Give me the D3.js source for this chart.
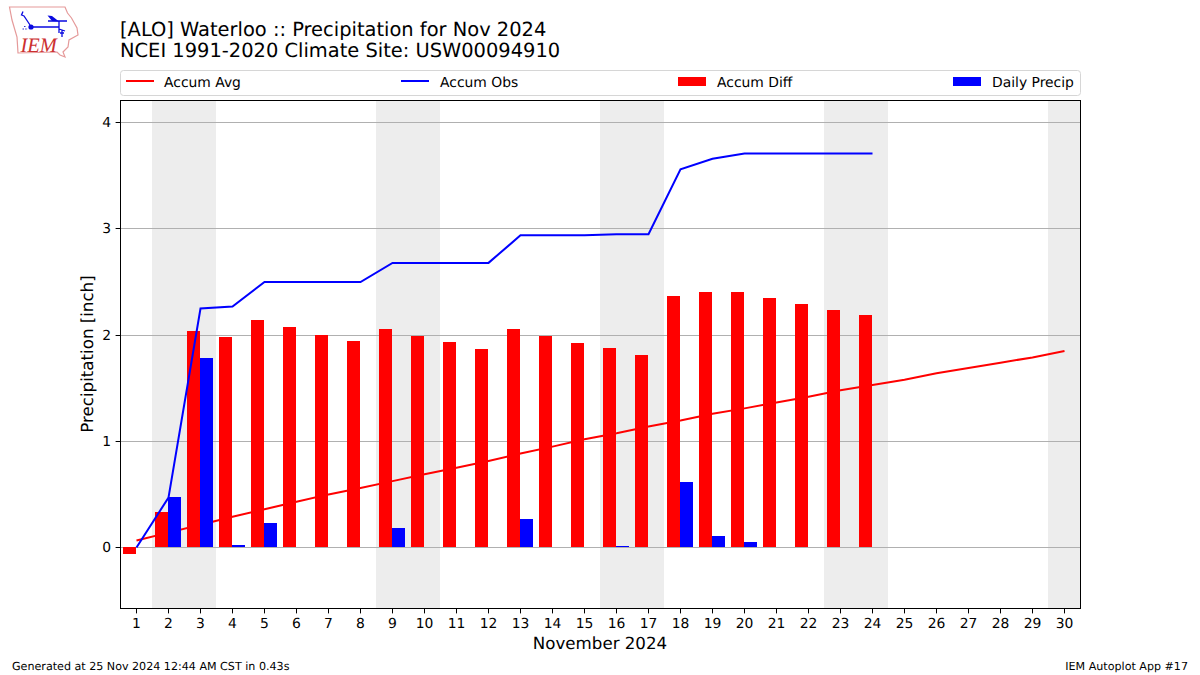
<!DOCTYPE html>
<html><head><meta charset="utf-8">
<script src="https://cdn.jsdelivr.net/npm/d3@7/dist/d3.min.js"></script>
<style>html,body{margin:0;background:#fff}svg{display:block}text{font-family:"DejaVu Sans",sans-serif;fill:#000;text-rendering:geometricPrecision}</style>
</head><body><svg id="c" width="1200" height="675"></svg>
<script>
const days = d3.range(1, 31);
const accumAvg = [0.065,0.14,0.215,0.29,0.36,0.43,0.50,0.56,0.625,0.69,0.75,0.815,0.885,0.95,1.02,1.075,1.14,1.195,1.26,1.31,1.365,1.42,1.48,1.53,1.58,1.64,1.69,1.74,1.79,1.85];
const accumObs = [0,0.47,2.25,2.27,2.50,2.50,2.50,2.50,2.68,2.68,2.68,2.68,2.94,2.94,2.94,2.95,2.95,3.56,3.66,3.71,3.71,3.71,3.71,3.71];
const accumDiff = [-0.065,0.33,2.035,1.98,2.14,2.07,2.0,1.94,2.055,1.99,1.93,1.865,2.055,1.99,1.92,1.875,1.81,2.365,2.40,2.40,2.345,2.29,2.23,2.18];
const dailyPrecip = [0,0.47,1.78,0.02,0.226,0,0,0,0.18,0,0,0,0.265,0,0,0.01,0,0.61,0.10,0.05,0,0,0,0];
const weekendBands = [[1.5,3.5],[8.5,10.5],[15.5,17.5],[22.5,24.5],[29.5,30.5]];
const yTicks = [0,1,2,3,4];
const legendItems = [["Accum Avg","line","#ff0000"],["Accum Obs","line","#0000ff"],["Accum Diff","bar","#ff0000"],["Daily Precip","bar","#0000ff"]];

const svg = d3.select("#c");
const L=120.5,R=1080.5,T=100.5,B=608.5;
const x = d3.scaleLinear().domain([0.5,30.5]).range([L,R]);
const y = d3.scaleLinear().domain([-0.5744,4.209]).range([B,T]);
const snap = v=>Math.round(v-0.5);
const hw = x(1.4)-x(1);

// logo
const logo = svg.append("g");
logo.append("path").attr("fill","none").attr("stroke","#e59a9a").attr("stroke-width",1.2)
 .attr("d","M9.5,7 L65,7 L67.5,13 L71.5,18 L77,28 L78,35 L69,40 L68,47 L63,52 L65,57 L60,55 L57,52 L18,53 L17,37 L12,20 Z");
logo.append("text").text("IEM").attr("x",20.5).attr("y",52).attr("font-size",20.5).attr("font-style","italic")
 .style("font-family","'Liberation Serif',serif").style("fill","#cc3030");
logo.append("path").attr("fill","none").attr("stroke","#0a0ae0").attr("stroke-width",1.3)
 .attr("d","M31,27 L59,27 M59,21 L59,33 M48,21 L67,21 M23,11.5 L21.5,15 L24,16 L30,25 M59,29 L65,31 M62,30 L62,37 M60,33 L64,33");
logo.append("circle").attr("cx",31).attr("cy",27).attr("r",2.6).attr("fill","#0a0ae0");
logo.append("path").attr("fill","#0a0ae0").attr("d","M47.5,15.5 L52,16 L59,21.5 L52,21 Z");
logo.append("path").attr("fill","none").attr("stroke","#3030d0").attr("stroke-dasharray","1.5 1.2").attr("d","M22.5,29 L28,29 M24,26.5 L26,26.5");

// titles
svg.append("text").text("[ALO] Waterloo :: Precipitation for Nov 2024").attr("x",120).attr("y",35.5).attr("font-size",19.44);
svg.append("text").text("NCEI 1991-2020 Climate Site: USW00094910").attr("x",120).attr("y",57).attr("font-size",19.44);

// legend
svg.append("rect").attr("x",120.5).attr("y",70.5).attr("width",960).attr("height",25).attr("rx",3)
 .attr("fill","#fff").attr("stroke","#d6d6d6");
const swatchX=[126,401,678,953], textX=[164,440,717,992];
legendItems.forEach((d,i)=>{
 if(d[1]==="line") svg.append("line").attr("x1",swatchX[i]).attr("x2",swatchX[i]+28).attr("y1",81).attr("y2",81).attr("stroke",d[2]).attr("stroke-width",2);
 else svg.append("rect").attr("x",swatchX[i]).attr("y",77).attr("width",28).attr("height",9).attr("fill",d[2]);
 svg.append("text").text(d[0]).attr("x",textX[i]).attr("y",86.5).attr("font-size",13.89);
});

// bands
svg.append("g").selectAll("rect").data(weekendBands).join("rect")
 .attr("x",d=>snap(x(d[0]))).attr("width",d=>snap(x(d[1]))-snap(x(d[0]))).attr("y",T).attr("height",B-T).attr("fill","#ededed");

// grid
svg.append("g").selectAll("line").data(yTicks).join("line")
 .attr("x1",L).attr("x2",R).attr("y1",d=>Math.floor(y(d))+0.5).attr("y2",d=>Math.floor(y(d))+0.5)
 .attr("stroke","#b0b0b0").attr("stroke-width",1);

const ln = d3.line().x((d,i)=>x(days[i])).y(d=>y(d));
// average line sits behind the bars
svg.append("path").datum(accumAvg).attr("d",ln).attr("fill","none").attr("stroke","#ff0000").attr("stroke-width",2);

// bars
svg.append("g").selectAll("rect").data(accumDiff).join("rect").attr("fill","#ff0000")
 .attr("x",(d,i)=>snap(x(days[i])-hw)).attr("width",(d,i)=>snap(x(days[i]))-snap(x(days[i])-hw))
 .attr("y",d=>Math.min(snap(y(d)),snap(y(0)))).attr("height",d=>Math.abs(snap(y(d))-snap(y(0))));
svg.append("g").selectAll("rect").data(dailyPrecip).join("rect").attr("fill","#0000ff")
 .attr("x",(d,i)=>snap(x(days[i]))).attr("width",(d,i)=>snap(x(days[i])+hw)-snap(x(days[i])))
 .attr("y",d=>snap(y(d))).attr("height",d=>snap(y(0))-snap(y(d)));

// observed line over the bars
svg.append("path").datum(accumObs).attr("d",ln).attr("fill","none").attr("stroke","#0000ff").attr("stroke-width",2);

// axes
const ax = svg.append("g").attr("transform",`translate(0,${B})`).call(d3.axisBottom(x).offset(0).tickValues(days).tickFormat(d3.format("d")).tickSize(4.9).tickPadding(4.5));
const ay = svg.append("g").attr("transform",`translate(${L},0)`).call(d3.axisLeft(y).offset(0).tickValues(yTicks).tickFormat(d3.format("d")).tickSize(4.9).tickPadding(4.5));
[ax,ay].forEach(a=>{a.selectAll("text").attr("font-size",13.89).style("font-family","'DejaVu Sans'");a.select(".domain").remove();a.selectAll("line").attr("stroke","#000").attr("stroke-width",1);});
ay.selectAll("line").attr("transform",d=>`translate(0,${Math.floor(y(d))+0.5-y(d)})`);
svg.append("rect").attr("x",L).attr("y",T).attr("width",R-L).attr("height",B-T).attr("fill","none").attr("stroke","#000").attr("stroke-width",1);

svg.append("text").text("November 2024").attr("x",600).attr("y",649).attr("text-anchor","middle").attr("font-size",16.67);
svg.append("text").text("Precipitation [inch]").attr("transform","translate(92.5,354) rotate(-90)").attr("text-anchor","middle").attr("font-size",16.67);
svg.append("text").text("Generated at 25 Nov 2024 12:44 AM CST in 0.43s").attr("x",12).attr("y",670).attr("font-size",11.11);
svg.append("text").text("IEM Autoplot App #17").attr("x",1188).attr("y",670).attr("text-anchor","end").attr("font-size",11.11);
</script></body></html>
